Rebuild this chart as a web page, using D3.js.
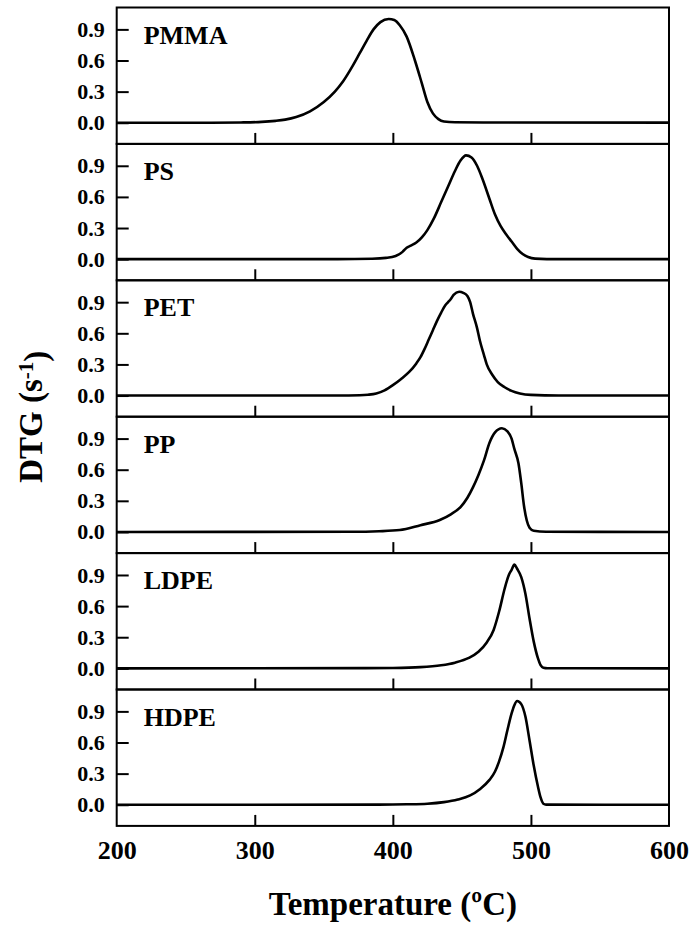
<!DOCTYPE html>
<html>
<head>
<meta charset="utf-8">
<script src="https://cdn.jsdelivr.net/npm/d3@7"></script>
<style>
  body { margin: 0; background: #fff; }
  svg { display: block; }
  text { font-family: "Liberation Serif", "Times New Roman", serif; font-weight: bold; fill: #000; }
</style>
</head>
<body>
<div id="chart"></div>
<script>
// sample names, top to bottom
const samples = ["PMMA", "PS", "PET", "PP", "LDPE", "HDPE"];

// DTG curves, [temperature (ºC), normalised rate]
const pmma = [[200,0],[260,0],[290,0.003],[305,0.008],[315,0.018],[322,0.03],[330,0.055],[340,0.11],[350,0.2],[358,0.3],[364,0.4],[371,0.55],[376,0.67],[381,0.79],[386,0.9],[391,0.97],[397,1.0],[401,0.99],[405,0.94],[410,0.83],[416,0.6],[421,0.38],[425,0.2],[429,0.09],[433,0.035],[437,0.012],[445,0.004],[480,0.002],[600,0.001]];
const ps = [[200,0],[360,0],[385,0.004],[395,0.012],[402,0.03],[407,0.07],[410,0.11],[413,0.13],[417,0.16],[421,0.21],[425,0.28],[430,0.4],[435,0.55],[440,0.7],[445,0.85],[449,0.95],[453,1.0],[457,0.98],[461,0.9],[465,0.77],[470,0.58],[474,0.43],[478,0.32],[482,0.24],[486,0.17],[490,0.1],[494,0.05],[498,0.02],[503,0.005],[520,0],[600,0]];
const pet = [[200,0],[360,0],[376,0.003],[382,0.008],[388,0.02],[394,0.05],[400,0.1],[406,0.16],[412,0.23],[417,0.31],[420,0.37],[423,0.45],[426,0.54],[429,0.63],[432,0.72],[435,0.8],[438,0.87],[440,0.9],[442,0.93],[444,0.97],[448,1.0],[451,0.99],[454,0.96],[456,0.9],[458,0.79],[461,0.65],[463,0.53],[466,0.39],[468,0.3],[472,0.2],[476,0.13],[481,0.08],[486,0.045],[492,0.02],[500,0.006],[520,0],[600,0]];
const pp = [[200,0],[370,0.002],[390,0.007],[405,0.018],[420,0.065],[434,0.115],[442,0.17],[449,0.24],[454,0.33],[458,0.43],[462,0.55],[466,0.69],[470,0.86],[474,0.96],[479,1.0],[483,0.97],[486,0.9],[488,0.8],[491,0.66],[493,0.47],[495,0.25],[497,0.11],[499,0.04],[502,0.012],[511,0.002],[600,0]];
const ldpe = [[200,0],[380,0.002],[400,0.004],[420,0.012],[435,0.03],[445,0.055],[455,0.1],[462,0.16],[468,0.25],[473,0.37],[477,0.55],[481,0.77],[484,0.9],[486,0.95],[488,1.0],[490,0.96],[493,0.88],[496,0.72],[499,0.48],[502,0.26],[505,0.1],[507,0.03],[509,0.006],[512,0.001],[600,0]];
const hdpe = [[200,0],[390,0.001],[410,0.004],[425,0.01],[437,0.025],[447,0.05],[456,0.09],[463,0.15],[470,0.24],[474,0.32],[477,0.42],[480,0.55],[483,0.72],[486,0.88],[488,0.96],[490,1.0],[493,0.97],[496,0.85],[499,0.62],[502,0.38],[505,0.18],[507,0.07],[509,0.01],[511,0.001],[600,0]];
const curves = [pmma, ps, pet, pp, ldpe, hdpe];

const xTicks = [200, 300, 400, 500, 600];
const xInnerTicks = [300, 400, 500];
const yTicks = [0, 0.3, 0.6, 0.9];

const width = 694, height = 925;
const plotLeft = 116.7, plotRight = 669, plotTop = 7.5, panelH = 136.4;

const svg = d3.select("#chart").append("svg")
    .attr("width", width)
    .attr("height", height);

const x = d3.scaleLinear().domain([200, 600]).range([plotLeft, plotRight]);
const y = d3.scaleLinear().domain([-0.204, 1.111]).range([panelH, 0]);

const line = d3.line()
    .x(d => x(d[0]))
    .y(d => y(d[1]))
    .curve(d3.curveMonotoneX);

samples.forEach((name, i) => {
    const g = svg.append("g")
        .attr("transform", `translate(0,${plotTop + i * panelH})`);

    // curve
    g.append("path")
        .datum(curves[i])
        .attr("d", line)
        .attr("fill", "none")
        .attr("stroke", "#000")
        .attr("stroke-width", 2.6)
        .attr("stroke-linejoin", "round");

    // y axis, ticks pointing inwards
    const yAxis = g.append("g")
        .attr("transform", `translate(${plotLeft},0)`)
        .call(d3.axisLeft(y).tickValues(yTicks).tickSize(-12).tickPadding(12).tickFormat(d3.format(".1f")));
    yAxis.select(".domain").remove();
    yAxis.selectAll("line").attr("stroke-width", 2);
    yAxis.selectAll("text").style("font-size", "22px").attr("font-family", null);

    // x ticks at the bottom of each panel, pointing up
    const xAxis = g.append("g")
        .attr("transform", `translate(0,${panelH})`)
        .call(d3.axisBottom(x).tickValues(xInnerTicks).tickSize(-11).tickFormat(""));
    xAxis.select(".domain").remove();
    xAxis.selectAll("line").attr("stroke-width", 2);

    // frame
    g.append("rect")
        .attr("x", plotLeft)
        .attr("y", 0)
        .attr("width", plotRight - plotLeft)
        .attr("height", panelH)
        .attr("fill", "none")
        .attr("stroke", "#000")
        .attr("stroke-width", 2);

    // sample label
    g.append("text")
        .attr("x", plotLeft + 27)
        .attr("y", 36)
        .style("font-size", "26px")
        .text(name);
});

// x tick labels under the last panel
const plotBottom = plotTop + samples.length * panelH;
const xLabels = svg.append("g")
    .attr("transform", `translate(0,${plotBottom})`)
    .call(d3.axisBottom(x).tickValues(xTicks).tickSize(0).tickPadding(15));
xLabels.select(".domain").remove();
xLabels.selectAll("text").style("font-size", "26px").attr("font-family", null);

// axis titles
svg.append("text")
    .attr("x", (plotLeft + plotRight) / 2)
    .attr("y", 915)
    .attr("text-anchor", "middle")
    .style("font-size", "33px")
    .text("Temperature (ºC)");

const yTitle = svg.append("text")
    .attr("transform", `translate(42,${plotTop + 3 * panelH}) rotate(-90)`)
    .attr("text-anchor", "middle")
    .style("font-size", "33px");
yTitle.append("tspan").text("DTG (s");
yTitle.append("tspan").attr("dy", "-0.45em").style("font-size", "21px").text("-1");
yTitle.append("tspan").attr("dy", "0.45em").text(")");
</script>
</body>
</html>
